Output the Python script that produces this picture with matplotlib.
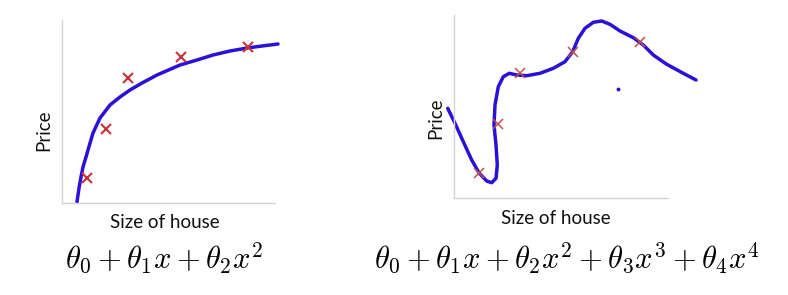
import matplotlib
matplotlib.use('Agg')
import matplotlib.pyplot as plt

plt.rcParams['mathtext.fontset'] = 'cm'
plt.rcParams['font.family'] = ['Lato', 'DejaVu Sans']

W, H = 788, 295

# training examples (size, price), same on both panels
size = [25, 44, 66, 119, 186]
price = [25, 74, 125, 146, 156]

# hand drawn quadratic fit
quad_x = [15, 16, 17, 19, 21, 24, 26, 31, 38, 48, 58, 68, 80, 95, 118, 135, 151, 168, 185, 200, 216]
quad_y = [1, 8, 15, 26, 36, 46, 53, 70, 85, 98, 106, 113, 120, 128, 138, 143, 148, 152, 155, 157, 159]

# hand drawn quartic fit (overfit)
quart_x = [-6.3, 1, 9.3, 17.7, 25.3, 32.7, 37.7, 42, 43.3, 42, 40, 41, 44.3, 49.3, 55.3,
           62.7, 72.7, 86, 99.3, 111, 118.7, 124.3, 131, 139.3, 147.7, 156, 166,
           179.3, 189.3, 199.3, 212.7, 229.3, 242]
quart_y = [89.7, 74.7, 56.3, 38, 24.7, 17, 15.3, 19.7, 33, 53, 73, 93, 111.3, 121.3, 124.7,
           123, 122.3, 124.7, 129.7, 136.3, 146.3, 159.7, 169.7, 175.7, 177, 173.7, 167,
           160.3, 153, 143, 133.7, 124.7, 118]
stray = (164, 109)

line_col = '#2b10d8'
spine_col = '#d4d4d4'

fig = plt.figure(figsize=(W / 100, H / 100), dpi=100)


def make_axes(left, top, w, h):
    ax = fig.add_axes([left / W, 1 - (top + h) / H, w / W, h / H])
    ax.set_xlim(0, w)
    ax.set_ylim(0, h)
    for s in ['top', 'right']:
        ax.spines[s].set_visible(False)
    for s in ['left', 'bottom']:
        ax.spines[s].set_color(spine_col)
        ax.spines[s].set_linewidth(1.0)
    ax.set_xticks([])
    ax.set_yticks([])
    ax.patch.set_alpha(0)
    return ax


ax1 = make_axes(62, 20, 213, 183)
ax1.plot(quad_x, quad_y, color=line_col, lw=2.5, solid_capstyle='round',
         solid_joinstyle='round', clip_on=False)
ax1.plot(size, price, 'x', color='#c8323a', ms=7, mew=1.5, clip_on=False)

ax2 = make_axes(454, 15, 214, 183)
ax2.plot(quart_x, quart_y, color=line_col, lw=2.5, solid_capstyle='round',
         solid_joinstyle='round', clip_on=False)
ax2.plot(size, price, 'x', color='#c0504d', ms=7, mew=1.1, clip_on=False)
ax2.plot([stray[0]], [stray[1]], 'o', color=line_col, ms=1.8, clip_on=False)


def txt(x, y, s, **kw):
    fig.text(x / W, 1 - y / H, s, ha='center', va='center', **kw)


txt(44, 130, 'Price', fontsize=13.5, rotation=90, color='#111111')
txt(436, 118, 'Price', fontsize=13.5, rotation=90, color='#111111')
txt(165, 222, 'Size of house', fontsize=13.5, color='#111111')
txt(556, 218, 'Size of house', fontsize=13.5, color='#111111')
txt(164, 258, r'$\theta_0 + \theta_1 x + \theta_2 x^2$', fontsize=22)
txt(567, 258, r'$\theta_0 + \theta_1 x + \theta_2 x^2 + \theta_3 x^3 + \theta_4 x^4$', fontsize=22)

fig.savefig('out.png', dpi=100)
